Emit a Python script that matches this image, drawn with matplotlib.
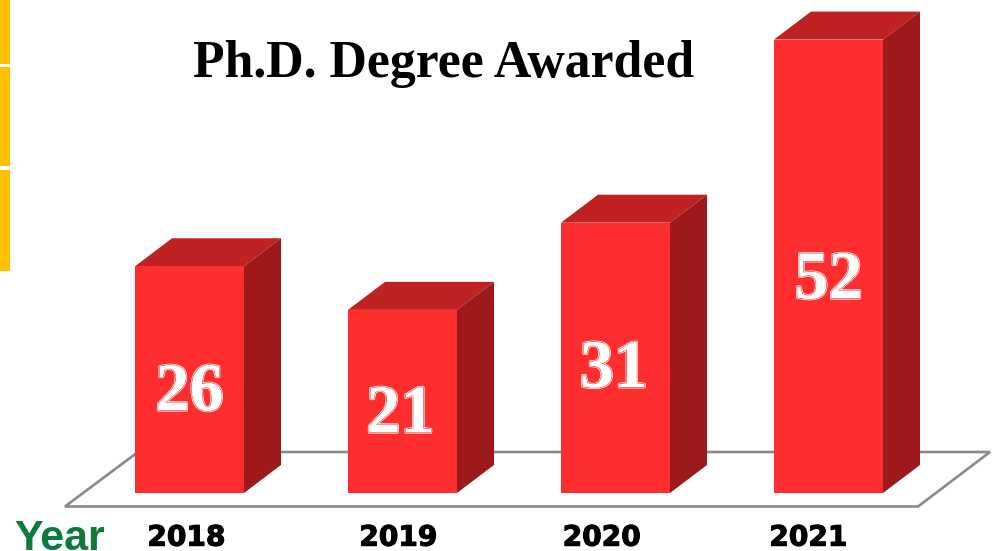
import matplotlib
matplotlib.use("Agg")
import matplotlib.pyplot as plt
import matplotlib.patheffects as pe
from matplotlib.patches import Polygon, Rectangle

years = ["2018", "2019", "2020", "2021"]
degrees = [26, 21, 31, 52]
title = "Ph.D. Degree Awarded"
axis_name = "Year"

W, H = 992, 551
PX_X = 213.0      # pixels per category
PX_Y = 8.72       # pixels per degree
X0 = 189.5        # pixel of first category
Y0 = 493.0        # pixel of value zero
BOTTOM = 507.0    # pixel of axes bottom

fig = plt.figure(figsize=(W / 100, H / 100), dpi=100, facecolor="white")
ax = fig.add_axes([0, (H - BOTTOM) / H, 1, BOTTOM / H])
ax.set_xlim(-X0 / PX_X, (W - X0) / PX_X)
ax.set_ylim(-(BOTTOM - Y0) / PX_Y, Y0 / PX_Y)
for s in ax.spines.values():
    s.set_visible(False)
ax.yaxis.set_visible(False)
ax.patch.set_alpha(0)


def dx(px):
    return px / PX_X


def dy(px):
    return px / PX_Y


# floor
fx = lambda p: (p - X0) / PX_X
fy = lambda p: (Y0 - p) / PX_Y
floor = Polygon([(fx(65), fy(506.5)), (fx(138), fy(452)), (fx(990), fy(452)), (fx(918), fy(506.5))],
                closed=True, fc="white", ec="#8a8a8a", lw=1.9, zorder=1, clip_on=False, joinstyle="miter")
ax.add_patch(floor)

# bars
bar_w = 109 / PX_X
depth_x, depth_y = dx(37), dy(28)
xs = list(range(len(degrees)))
ax.bar(xs, degrees, width=bar_w, color="#FF2E2E", zorder=3, linewidth=0)
for x, v in zip(xs, degrees):
    l, r = x - bar_w / 2, x + bar_w / 2
    ax.add_patch(Polygon([(l, v), (r, v), (r + depth_x, v + depth_y), (l + depth_x, v + depth_y)],
                         closed=True, fc="#BF2222", ec="none", zorder=2))
    ax.add_patch(Polygon([(r, 0), (r + depth_x, depth_y), (r + depth_x, v + depth_y), (r, v)],
                         closed=True, fc="#9E1A1A", ec="none", zorder=2))

# value labels, engraved look
label_height = [0.438, 0.422, 0.453, 0.466]
label_shift = [0.0, -0.01, -0.008, 0.0]
for x, v, f, s in zip(xs, degrees, label_height, label_shift):
    ax.text(x + s, v * f, str(v), ha="center", va="center", fontsize=49,
            family="Liberation Serif", fontweight="bold", color="white", zorder=5,
            path_effects=[pe.withStroke(linewidth=2.0, foreground="white"),
                          pe.withStroke(linewidth=1.0, foreground="#FF2E2E"),
                          pe.Normal()])

# x tick labels
ax.set_xticks([x + o for x, o in zip(xs, [-0.015, -0.02, -0.065, -0.095])])
ax.set_xticklabels(years, family="DejaVu Sans", fontweight="bold", fontsize=20.2, color="black")
ax.tick_params(axis="x", length=0, pad=12)
for t in ax.get_xticklabels():
    t.set_path_effects([pe.withStroke(linewidth=0.8, foreground="black")])

fig.text(60 / W, 1 - 550 / H, axis_name, ha="center", va="baseline", fontsize=31,
         family="Liberation Sans", fontweight="bold", color="#0B7A3B")
fig.text(444 / W, 1 - 77 / H, title, ha="center", va="baseline", fontsize=37.3,
         family="Liberation Serif", fontweight="bold", color="black")

# left decorative strips
for top, bottom in [(0, 64), (67, 166), (170, 271)]:
    fig.add_artist(Rectangle((0, 1 - bottom / H), 10 / W, (bottom - top) / H,
                             transform=fig.transFigure, fc="#FFC000", ec="none"))

fig.savefig("out.png", dpi=100, facecolor="white")
